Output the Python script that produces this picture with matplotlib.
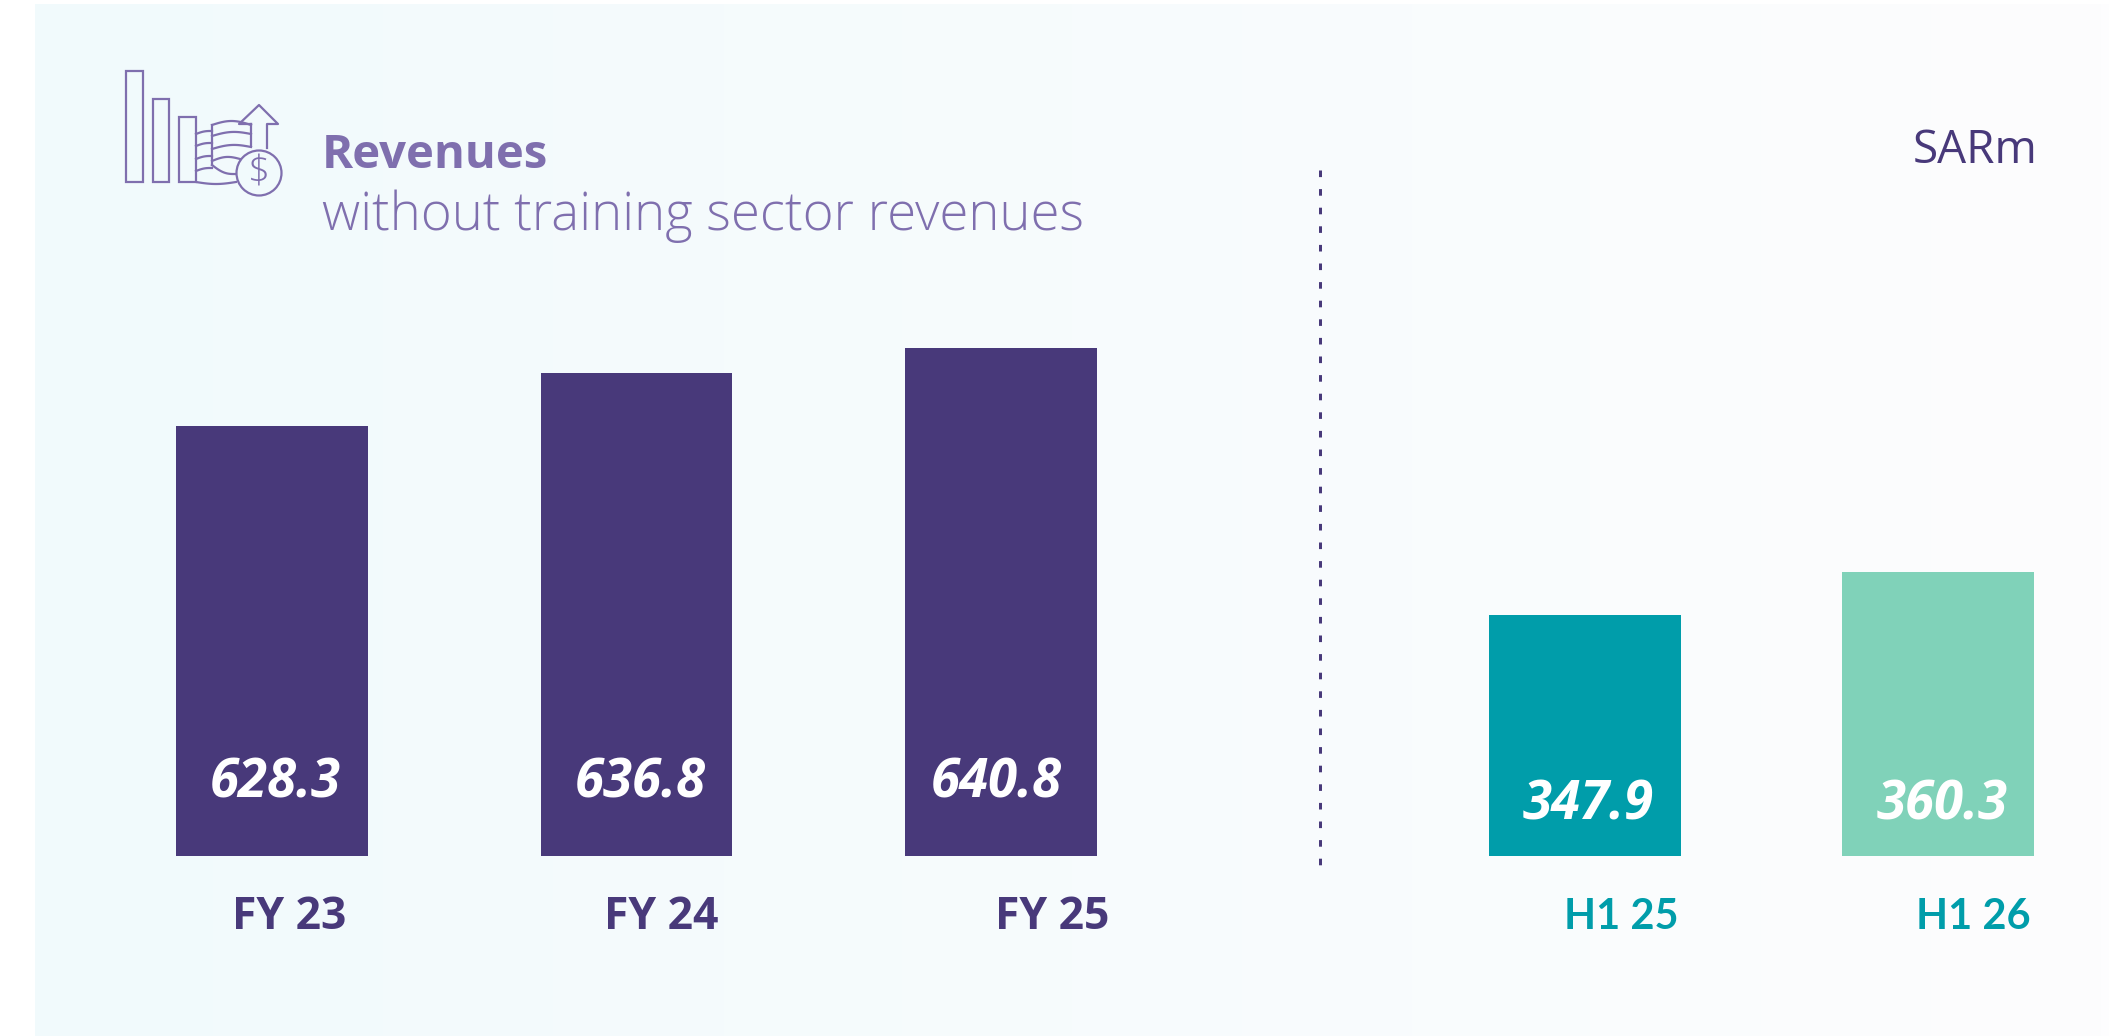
import matplotlib
matplotlib.use('Agg')
import matplotlib.pyplot as plt
import numpy as np
from matplotlib.patches import Rectangle, Circle

W, H = 2109, 1036
PX = 72 / 100  # pixels to points at dpi 100

#Data
fy_labels = ['FY 23', 'FY 24', 'FY 25']
fy_values = [628.3, 636.8, 640.8]
h1_labels = ['H1 25', 'H1 26']
h1_values = [347.9, 360.3]

#Colors
purple = '#48397a'
lilac = '#7f6fae'
teal = '#009daa'
mint = '#80d2b9'

fig = plt.figure(figsize=(W / 100, H / 100), dpi=100, facecolor='white')

#Full figure axes in pixels for background, title, icon and divider
bg = fig.add_axes([0, 0, 1, 1])
bg.axis('off')
left_col = np.array([0xf1, 0xfa, 0xfc]) / 255
right_col = np.array([0xfd, 0xfd, 0xfe]) / 255
grad = np.linspace(0, 1, 256)[None, :, None]
bg.imshow(left_col + (right_col - left_col) * grad, extent=[35, W, H, 4], aspect='auto')
bg.set_xlim(0, W)
bg.set_ylim(H, 0)


def arc(x0, y0, x1, y1, bulge):
    #Shallow curve for the coin stacks, bulge is negative going up
    t = np.linspace(0, 1, 30)
    bg.plot(x0 + (x1 - x0) * t, y0 + (y1 - y0) * t + bulge * np.sin(np.pi * t), color=lilac, lw=1.6)


#Icon
for x0, x1, y0 in [(126, 143, 71), (153, 169, 99), (179, 196, 117)]:
    bg.add_patch(Rectangle((x0, y0), x1 - x0, 182 - y0, fill=False, ec=lilac, lw=1.6))
bg.plot([251, 239, 259, 278, 267, 267], [124, 124, 105, 124, 124, 148], color=lilac, lw=1.6)
bg.plot([251, 251], [124, 146], color=lilac, lw=1.6)
bg.plot([212, 212], [125, 165], color=lilac, lw=1.6)
arc(212, 125, 251, 125, -4)
arc(212, 136, 251, 134, -3)
arc(212, 149, 251, 147, -3)
arc(212, 161, 240, 159, -3)
arc(212, 165, 236, 174, 3)
for y0 in [134, 146, 159, 171]:
    arc(196, y0, 212, y0 - 3, -1)
arc(196, 182, 236, 182, 2)
bg.add_patch(Circle((259, 173), 22.5, fc=left_col, ec=lilac, lw=1.6, zorder=3))
bg.text(259, 173, '$', color=lilac, fontsize=28, family='Open Sans', weight='light',
        ha='center', va='center', zorder=4)

#Titles
bg.text(322, 168, 'Revenues', color=lilac, fontsize=34, family='Open Sans', weight='bold', va='baseline')
bg.text(322, 230, 'without training sector revenues', color=lilac, fontsize=38, family='Open Sans',
        weight='light', va='baseline')
bg.text(2038, 163, 'SARm', color=purple, fontsize=33, family='Open Sans', ha='right', va='baseline')

#Divider
bg.plot([1320, 1320], [170, 865], color=purple, lw=3 * PX, dash_capstyle='butt',
        linestyle=(0, (2.2, 4)))


def draw_group(box, xlim, ybase, pxunit, labels, values, colors, width, label_color, label_dx, value_dx,
               value_y, label_font):
    #box is left, right in pixels, bars stand on y=856
    top = 300
    ax = fig.add_axes([box[0] / W, (H - 856) / H, (box[1] - box[0]) / W, (856 - top) / H])
    ax.patch.set_alpha(0)
    ax.set_xlim(*xlim)
    ax.set_ylim(ybase, ybase + (856 - top) / pxunit)
    ax.axis('off')
    x = np.arange(len(values))
    ax.bar(x, values, width=width, color=colors)
    for i, v in enumerate(values):
        ax.annotate(f'{v:.1f}', xy=(i, ybase), xytext=(value_dx[i] * PX, value_y * PX), textcoords='offset points',
                    annotation_clip=False, color='white', fontsize=38, family='Open Sans', weight='bold',
                    style='italic', ha='center', va='baseline')
        ax.annotate(labels[i], xy=(i, ybase), xytext=(label_dx[i] * PX, -73 * PX), textcoords='offset points',
                    annotation_clip=False, color=label_color, fontsize=label_font[1], family=label_font[0],
                    weight='bold', ha='center', va='baseline')


#Truncated scales, each group has its own baseline
draw_group((90, 1183), (-0.5, 2.5), 559.46, 6.25, fy_labels, fy_values, purple, 192 / 364.5, purple,
           [17, 25, 51], [3, 4, -5], 58, ('Open Sans', 32))
draw_group((1408.5, 2079), (-0.5, 1.4), 278.4, 3.47, h1_labels, h1_values, [teal, mint], 192 / 353, teal,
           [36, 35], [3, 4], 37, ('Lato', 30))

fig.savefig('out.png', dpi=100)
